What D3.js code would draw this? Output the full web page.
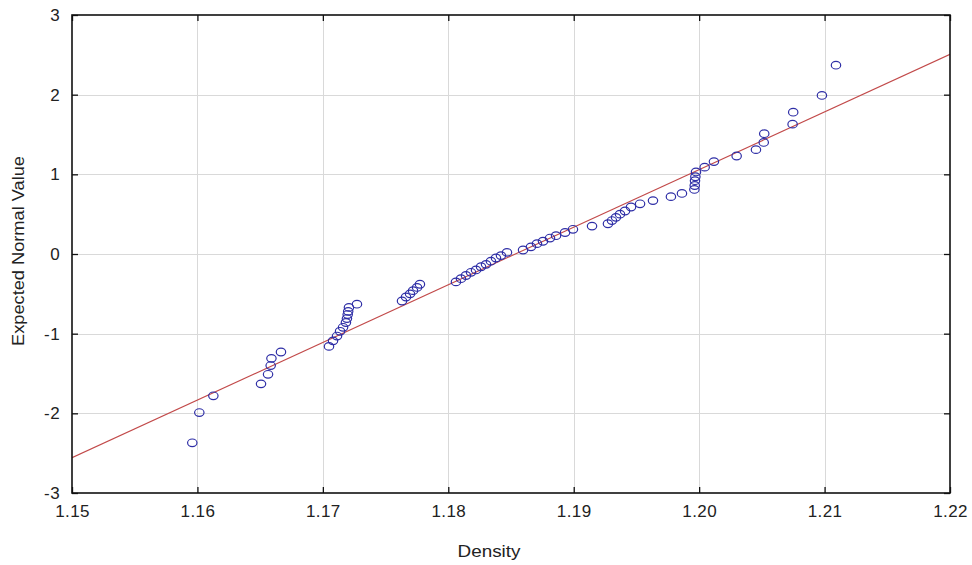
<!DOCTYPE html>
<html>
<head>
<meta charset="utf-8">
<script src="https://cdn.jsdelivr.net/npm/d3@7"></script>
<style>
  html, body { margin: 0; padding: 0; background: #ffffff; }
  svg { display: block; }
  text { font-family: "Liberation Sans", Arial, sans-serif; fill: #222; }
</style>
</head>
<body>
<svg id="chart" width="972" height="565"></svg>
<script>
// Sorted density measurements (observed values)
const density = [
  1.15959, 1.16015, 1.16127, 1.16507, 1.16563, 1.16584, 1.16590, 1.16666,
  1.17049, 1.17081, 1.17113, 1.17137, 1.17161, 1.17184, 1.17192, 1.17198,
  1.17202, 1.17208, 1.17272,
  1.17631, 1.17663, 1.17695, 1.17719, 1.17751, 1.17774,
  1.18061, 1.18101, 1.18141, 1.18181, 1.18221, 1.18261, 1.18301, 1.18340,
  1.18380, 1.18420, 1.18468,
  1.18596, 1.18659, 1.18707, 1.18755, 1.18811, 1.18859, 1.18931, 1.18994,
  1.19146,
  1.19273, 1.19305, 1.19337, 1.19369, 1.19409, 1.19457, 1.19529,
  1.19632, 1.19775, 1.19863, 1.19962, 1.19965, 1.19967, 1.19970, 1.19975,
  1.20044, 1.20118, 1.20299, 1.20453, 1.20515, 1.20519, 1.20745, 1.20750,
  1.20979, 1.21091
];

// Expected normal value for each ranked observation
const expectedNormal = [
  -2.37, -1.99, -1.78, -1.63, -1.51, -1.40, -1.31, -1.23,
  -1.16, -1.09, -1.03, -0.97, -0.92, -0.86, -0.81, -0.76,
  -0.72, -0.67, -0.63,
  -0.59, -0.54, -0.50, -0.46, -0.42, -0.38,
  -0.35, -0.31, -0.27, -0.23, -0.20, -0.16, -0.13, -0.09,
  -0.05, -0.02, 0.02,
  0.05, 0.09, 0.13, 0.16, 0.20, 0.23, 0.27, 0.31,
  0.35,
  0.38, 0.42, 0.46, 0.50, 0.54, 0.59, 0.63,
  0.67, 0.72, 0.76, 0.81, 0.86, 0.92, 0.97, 1.03,
  1.09, 1.16, 1.23, 1.31, 1.40, 1.51, 1.63, 1.78,
  1.99, 2.37
];

// Reference line endpoints (density, expected normal value)
const fitLineX = [1.15, 1.22];
const fitLineY = [-2.556, 2.506];

const xTicks = [1.15, 1.16, 1.17, 1.18, 1.19, 1.20, 1.21, 1.22];
const yTicks = [-3, -2, -1, 0, 1, 2, 3];

const xTitle = "Density";
const yTitle = "Expected Normal Value";

const svg = d3.select("#chart");
const plot = { left: 72, right: 950, top: 15, bottom: 493 };

const x = d3.scaleLinear().domain([1.15, 1.22]).range([plot.left, plot.right]);
const y = d3.scaleLinear().domain([-3, 3]).range([plot.bottom, plot.top]);

// Grid lines
const grid = svg.append("g").attr("stroke", "#d9d9d9").attr("stroke-width", 1);
grid.selectAll("line.vx").data(xTicks.slice(1, -1)).join("line")
  .attr("x1", d => Math.round(x(d)) + 0.5).attr("x2", d => Math.round(x(d)) + 0.5)
  .attr("y1", plot.top).attr("y2", plot.bottom);
grid.selectAll("line.hy").data(yTicks.slice(1, -1)).join("line")
  .attr("y1", d => Math.round(y(d)) + 0.5).attr("y2", d => Math.round(y(d)) + 0.5)
  .attr("x1", plot.left).attr("x2", plot.right);

// Reference line, clipped to the plot frame
svg.append("clipPath").attr("id", "plotclip")
  .append("rect").attr("x", plot.left).attr("y", plot.top)
  .attr("width", plot.right - plot.left).attr("height", plot.bottom - plot.top);

svg.append("line")
  .attr("clip-path", "url(#plotclip)")
  .attr("x1", x(fitLineX[0])).attr("y1", y(fitLineY[0]))
  .attr("x2", x(fitLineX[1])).attr("y2", y(fitLineY[1]))
  .attr("stroke", "#c24a4a").attr("stroke-width", 1.1);

// Observations
svg.append("g")
  .selectAll("ellipse")
  .data(density.map((d, i) => [d, expectedNormal[i]]))
  .join("ellipse")
  .attr("cx", d => x(d[0])).attr("cy", d => y(d[1]))
  .attr("rx", 4.7).attr("ry", 3.8)
  .attr("fill", "none").attr("stroke", "#2e2ea6").attr("stroke-width", 1.2);

// Axes with inward ticks on all four sides; plain hyphen for negatives
const axisBottom = d3.axisBottom(x).tickValues(xTicks).tickSize(-6).tickPadding(12)
  .tickFormat(d3.format(".2f"));
const axisTop = d3.axisTop(x).tickValues(xTicks).tickSize(-6).tickFormat("");
const axisLeft = d3.axisLeft(y).tickValues(yTicks).tickSize(-6).tickPadding(12)
  .tickFormat(d => String(d));
const axisRight = d3.axisRight(y).tickValues(yTicks).tickSize(-6).tickFormat("");

function styleAxis(g) {
  g.select(".domain").remove();
  g.selectAll(".tick line").attr("stroke", "#111").attr("stroke-width", 1.3);
  g.selectAll(".tick text").attr("fill", "#222")
    .style("font-size", "17px").style("letter-spacing", "0.4px")
    .style("font-family", "Liberation Sans, Arial, sans-serif");
}

svg.append("g").attr("transform", `translate(0,${plot.bottom})`).call(axisBottom).call(styleAxis);
svg.append("g").attr("transform", `translate(0,${plot.top})`).call(axisTop).call(styleAxis);
svg.append("g").attr("transform", `translate(${plot.left},0)`).call(axisLeft).call(styleAxis);
svg.append("g").attr("transform", `translate(${plot.right},0)`).call(axisRight).call(styleAxis);

// Frame
svg.append("rect")
  .attr("x", plot.left).attr("y", plot.top)
  .attr("width", plot.right - plot.left).attr("height", plot.bottom - plot.top)
  .attr("fill", "none").attr("stroke", "#111").attr("stroke-width", 1.6);

// Axis titles
svg.append("text")
  .attr("x", 489).attr("y", 557)
  .attr("text-anchor", "middle")
  .attr("textLength", 63).attr("lengthAdjust", "spacingAndGlyphs")
  .style("font-size", "17px")
  .text(xTitle);

svg.append("text")
  .attr("transform", `translate(24,251) rotate(-90)`)
  .attr("text-anchor", "middle")
  .attr("textLength", 190).attr("lengthAdjust", "spacingAndGlyphs")
  .style("font-size", "17px")
  .text(yTitle);
</script>
</body>
</html>
